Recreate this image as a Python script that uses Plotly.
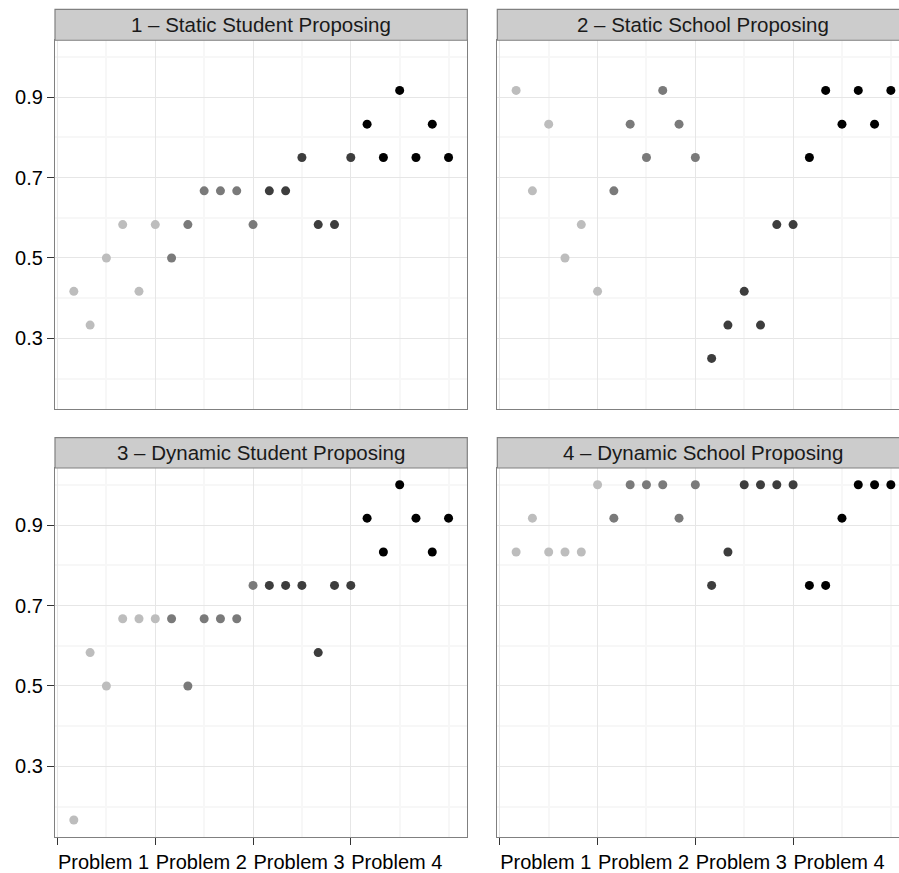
import plotly.graph_objects as go

# ---------------- data ----------------
panel_titles = [
    "1 \u2013 Static Student Proposing",
    "2 \u2013 Static School Proposing",
    "3 \u2013 Dynamic Student Proposing",
    "4 \u2013 Dynamic School Proposing",
]
problem_labels = ["Problem 1", "Problem 2", "Problem 3", "Problem 4"]
sessions_per_problem = 6

static_student = [0.417, 0.333, 0.500, 0.583, 0.417, 0.583,
                  0.500, 0.583, 0.667, 0.667, 0.667, 0.583,
                  0.667, 0.667, 0.750, 0.583, 0.583, 0.750,
                  0.833, 0.750, 0.917, 0.750, 0.833, 0.750]
static_school = [0.917, 0.667, 0.833, 0.500, 0.583, 0.417,
                 0.667, 0.833, 0.750, 0.917, 0.833, 0.750,
                 0.250, 0.333, 0.417, 0.333, 0.583, 0.583,
                 0.750, 0.917, 0.833, 0.917, 0.833, 0.917]
dynamic_student = [0.167, 0.583, 0.500, 0.667, 0.667, 0.667,
                   0.667, 0.500, 0.667, 0.667, 0.667, 0.750,
                   0.750, 0.750, 0.750, 0.583, 0.750, 0.750,
                   0.917, 0.833, 1.000, 0.917, 0.833, 0.917]
dynamic_school = [0.833, 0.917, 0.833, 0.833, 0.833, 1.000,
                  0.917, 1.000, 1.000, 1.000, 0.917, 1.000,
                  0.750, 0.833, 1.000, 1.000, 1.000, 1.000,
                  0.750, 0.750, 0.917, 1.000, 1.000, 1.000]
panel_values = [static_student, static_school, dynamic_student, dynamic_school]

y_ticks = [0.3, 0.5, 0.7, 0.9]
y_minor = [0.2, 0.4, 0.6, 0.8, 1.0]
x_ticks = [0, 1, 2, 3]
x_minor = [0.5, 1.5, 2.5, 3.5, 4.0]

# ---------------- style ----------------
W, H = 899, 873
problem_colors = ["#bdbdbd", "#7a7a7a", "#3d3d3d", "#000000"]
FONT = "Liberation Sans, Arial, sans-serif"
border = "#808080"
major_grid = "#e6e6e6"
minor_grid = "#f7f7f7"

xdom = [[55 / W, 467.3 / W], [497.3 / W, 1.0]]
ydom = [[1 - 411 / H, 1 - 40.5 / H], [1 - 841.7 / H, 1 - 470.7 / H]]
strip_y = [[1 - 40.5 / H, 1 - 9.5 / H], [1 - 470.7 / H, 1 - 440.2 / H]]
unit = 412.3 / 4.2175
xr_left = [-0.0258, 4.1917]
xr_right = [-0.0258, -0.0258 + (W - 497.3) / unit]
yr = [0.125, 1.0417]

fig = go.Figure()
layout = dict(
    width=W, height=H, autosize=False,
    margin=dict(l=0, r=0, t=0, b=0),
    paper_bgcolor="white", plot_bgcolor="white",
    showlegend=False,
    font=dict(family=FONT, size=20, color="black"),
    shapes=[], annotations=[],
)

for i, (title, vals) in enumerate(zip(panel_titles, panel_values)):
    row, col = divmod(i, 2)
    n = i + 1
    xs, cols = [], []
    for k, v in enumerate(vals):
        p = k // sessions_per_problem
        j = k % sessions_per_problem + 1
        xs.append(p + j / sessions_per_problem)
        cols.append(problem_colors[p])
    sfx = "" if n == 1 else str(n)
    fig.add_trace(go.Scatter(
        x=xs, y=vals, mode="markers",
        marker=dict(size=9, color=cols, line=dict(width=0)),
        xaxis="x" + sfx, yaxis="y" + sfx, hoverinfo="x+y",
    ))
    bottom = row == 1
    left = col == 0
    layout["xaxis" + sfx] = dict(
        domain=xdom[col], anchor="y" + sfx,
        range=xr_left if left else xr_right,
        tickmode="array", tickvals=x_ticks, ticktext=problem_labels,
        showticklabels=bottom, ticks="outside" if bottom else "",
        ticklen=7, tickwidth=1, tickcolor="#333333",
        ticklabelshift=46,
        tickfont=dict(size=20, color="black", family=FONT),
        showgrid=True, gridcolor=major_grid, gridwidth=1,
        minor=dict(tickvals=x_minor, showgrid=True, gridcolor=minor_grid, gridwidth=1.5, ticks=""),
        showline=True, mirror=True, linecolor=border, linewidth=1.2,
        zeroline=False, fixedrange=True,
    )
    layout["yaxis" + sfx] = dict(
        domain=ydom[row], anchor="x" + sfx,
        range=yr,
        tickmode="array", tickvals=y_ticks, ticktext=[f"{t:.1f}" for t in y_ticks],
        showticklabels=left, ticks="outside" if left else "",
        ticklen=7, tickwidth=1, tickcolor="#333333",
        tickfont=dict(size=20, color="black", family=FONT),
        showgrid=True, gridcolor=major_grid, gridwidth=1,
        minor=dict(tickvals=y_minor, showgrid=True, gridcolor=minor_grid, gridwidth=1.5, ticks=""),
        showline=True, mirror=left, linecolor=border, linewidth=1.2,
        zeroline=False, fixedrange=True,
    )
    # facet strip
    x0, x1 = xdom[col]
    if not left:
        x1 = (497.3 + 4.2175 * unit) / W
    y0, y1 = strip_y[row]
    layout["shapes"].append(dict(
        type="rect", xref="paper", yref="paper", x0=x0, x1=x1, y0=y0, y1=y1,
        fillcolor="#cccccc", line=dict(color=border, width=1.2), layer="above",
    ))
    layout["annotations"].append(dict(
        xref="paper", yref="paper", x=(x0 + x1) / 2, y=(y0 + y1) / 2,
        xanchor="center", yanchor="middle", showarrow=False,
        text=title, font=dict(size=20.5, color="#1a1a1a", family=FONT),
    ))

fig.update_layout(**layout)
post = ("document.documentElement.style.margin='0';"
        "document.documentElement.style.overflow='hidden';"
        "document.body.style.margin='0';document.body.style.padding='0';"
        "document.body.style.overflow='hidden';")
fig.write_html("out.html", post_script=post,
               config={"responsive": False, "displayModeBar": False})
